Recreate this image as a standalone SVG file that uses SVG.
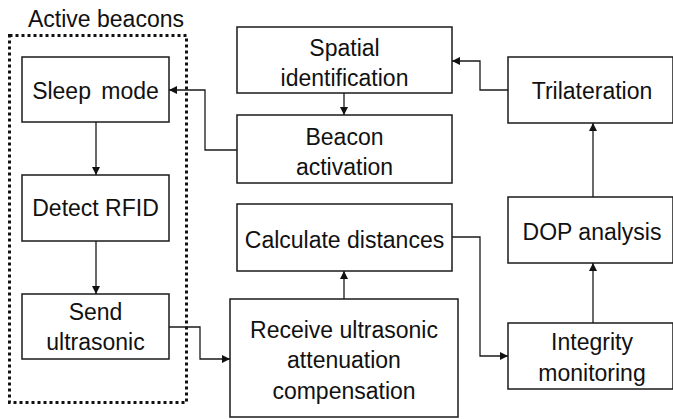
<svg xmlns="http://www.w3.org/2000/svg" width="673" height="419" viewBox="0 0 673 419">
<defs>
<style>
.box{fill:#fff;stroke:#1a1a1a;stroke-width:1.5}
.t{font-family:"Liberation Sans",Arial,sans-serif;font-size:23px;fill:#111;text-anchor:middle}
.c{fill:none;stroke:#1a1a1a;stroke-width:1.3}
</style>
<marker id="ah" viewBox="0 0 10 10" refX="10" refY="5" markerWidth="8" markerHeight="8" markerUnits="userSpaceOnUse" orient="auto">
<path d="M0,0 L10,5 L0,10 z" fill="#111"/>
</marker>
</defs>
<rect width="673" height="419" fill="#fff"/>
<g id="group-active-beacons">
<rect x="9.5" y="35.5" width="177" height="367" fill="none" stroke="#111" stroke-width="3" stroke-dasharray="3,3"/>
<text class="t" x="106" y="27">Active beacons</text>
</g>
<g id="sleep-mode"><rect class="box" x="22" y="57" width="147" height="65"/><text class="t" x="95.5" y="99" word-spacing="4">Sleep mode</text></g>
<g id="detect-rfid"><rect class="box" x="22" y="175" width="147" height="66"/><text class="t" x="95.5" y="216">Detect RFID</text></g>
<g id="send-ultrasonic"><rect class="box" x="22" y="294" width="147" height="65"/><text class="t" x="95.5" y="320">Send</text><text class="t" x="95.5" y="350">ultrasonic</text></g>
<g id="spatial-identification"><rect class="box" x="237" y="27" width="215" height="66"/><text class="t" x="344.5" y="56">Spatial</text><text class="t" x="344.5" y="86">identification</text></g>
<g id="beacon-activation"><rect class="box" x="237" y="115" width="215" height="68"/><text class="t" x="344.5" y="145">Beacon</text><text class="t" x="344.5" y="175">activation</text></g>
<g id="calculate-distances"><rect class="box" x="237" y="204" width="215" height="67"/><text class="t" x="344.5" y="248">Calculate distances</text></g>
<g id="receive-ultrasonic"><rect class="box" x="230" y="299" width="228" height="118"/><text class="t" x="344" y="338">Receive ultrasonic</text><text class="t" x="344" y="368">attenuation</text><text class="t" x="344" y="399">compensation</text></g>
<g id="trilateration"><rect class="box" x="508" y="57" width="165" height="66"/><text class="t" x="592" y="99">Trilateration</text></g>
<g id="dop-analysis"><rect class="box" x="508" y="197" width="165" height="66"/><text class="t" x="592" y="240">DOP analysis</text></g>
<g id="integrity-monitoring"><rect class="box" x="508" y="323" width="165" height="66"/><text class="t" x="592" y="350">Integrity</text><text class="t" x="592" y="381">monitoring</text></g>
<g id="connectors">
<path class="c" d="M96,122 V175" marker-end="url(#ah)"/>
<path class="c" d="M96,241 V294" marker-end="url(#ah)"/>
<path class="c" d="M169,327 H200 V359 H230" marker-end="url(#ah)"/>
<path class="c" d="M344,299 V271" marker-end="url(#ah)"/>
<path class="c" d="M452,237 H480 V356 H508" marker-end="url(#ah)"/>
<path class="c" d="M593,323 V263" marker-end="url(#ah)"/>
<path class="c" d="M593,197 V123" marker-end="url(#ah)"/>
<path class="c" d="M508,90 H480 V61 H452" marker-end="url(#ah)"/>
<path class="c" d="M344,93 V115" marker-end="url(#ah)"/>
<path class="c" d="M237,150 H205 V90 H169" marker-end="url(#ah)"/>
</g>
</svg>
